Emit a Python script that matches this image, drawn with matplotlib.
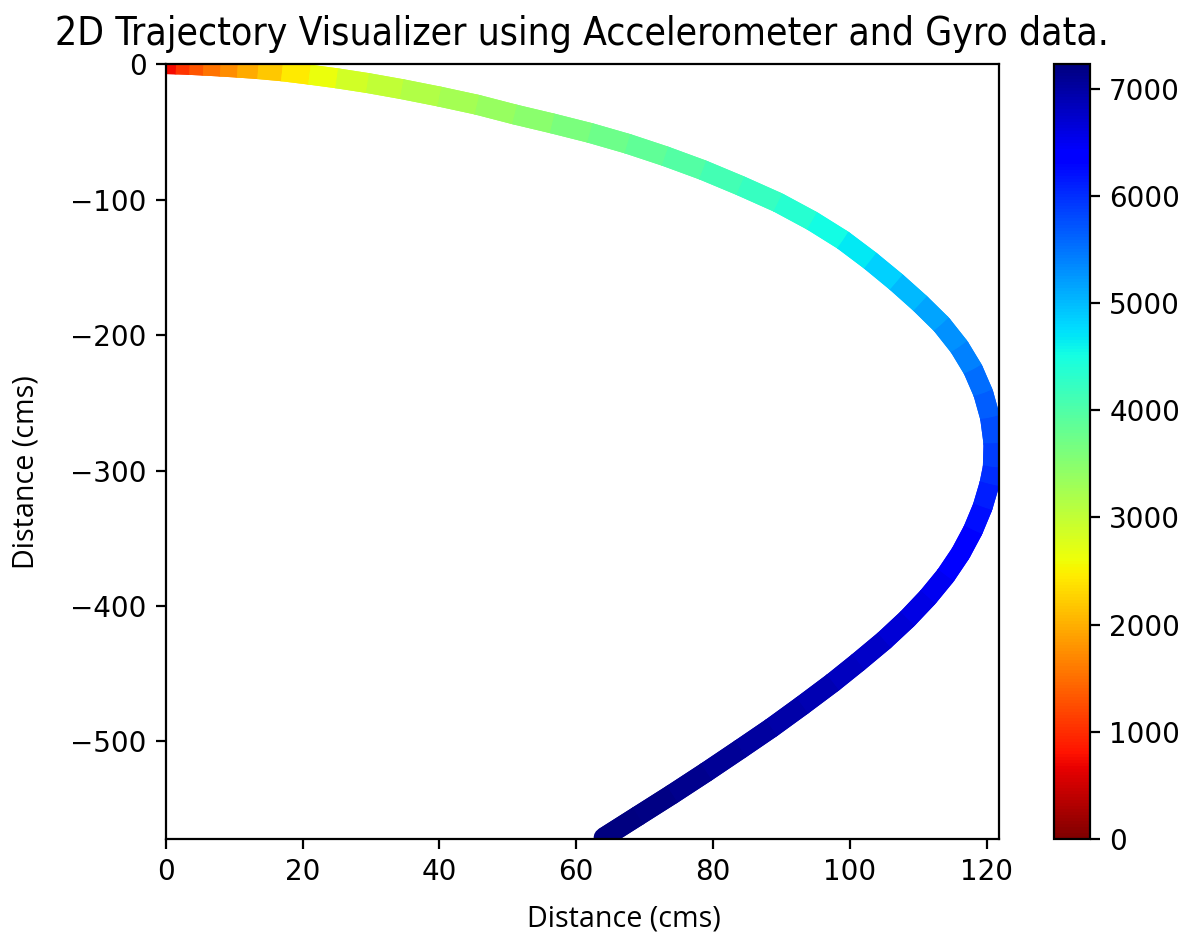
import matplotlib
matplotlib.use("Agg")
import matplotlib.pyplot as plt
import numpy as np
from matplotlib.collections import LineCollection
from matplotlib.colors import Normalize

# sample index along the run and the integrated position (cm)
sample_idx = [0, 750, 1050, 1300, 1550, 1750, 1950, 2200, 2450, 2650,
              2880, 3020, 3140, 3250, 3370, 3480, 3620, 3740, 3860, 3980,
              4100, 4230, 4370, 4520, 4680, 4840, 5000, 5150, 5300, 5420,
              5540, 5660, 5780, 5900, 6010, 6120, 6230, 6330, 6420, 6510,
              6590, 6670, 6750, 6830, 6900, 6960, 7020, 7080, 7130, 7180,
              7230]
pos_x = [0.0, 1.5, 3.5, 5.5, 8.0, 10.5, 13.5, 17.0, 21.0, 25.0,
         29.5, 34.5, 40.0, 45.5, 51.0, 56.5, 62.0, 67.5, 73.0, 78.5,
         84.0, 89.5, 94.5, 99.0, 103.0, 106.8, 110.3, 113.4, 116.0, 118.0,
         119.5, 120.5, 121.0, 120.9, 120.4, 119.4, 118.0, 116.2, 114.0, 111.4,
         108.4, 105.0, 101.2, 97.5, 93.0, 88.5, 84.0, 79.0, 74.0, 69.0,
         64.0]
pos_y = [0.0, -0.2, -0.6, -1.1, -1.8, -2.6, -3.7, -5.3, -7.8, -10.5,
         -14.0, -18.5, -24.0, -30.0, -37.2, -43.8, -50.8, -58.8, -68.0, -78.2,
         -89.8, -102.2, -115.8, -130.0, -145.2, -161.0, -176.8, -192.2, -208.8, -225.5,
         -243.0, -261.0, -280.0, -297.5, -310.0, -327.0, -344.0, -361.0, -377.5, -393.5,
         -409.5, -425.5, -441.5, -456.5, -473.5, -490.0, -505.5, -522.5, -539.0, -555.0,
         -571.0]

cbar_ticks = [0, 1000, 2000, 3000, 4000, 5000, 6000, 7000]

fig = plt.figure(figsize=(5.965, 4.69), dpi=200)
ax = fig.add_axes([0.139, 0.1055, 0.6984, 0.8262])
cax = fig.add_axes([0.8835, 0.1055, 0.030, 0.8262])

pts = np.column_stack([pos_x, pos_y])
segs = np.stack([pts[:-1], pts[1:]], axis=1)
# each stretch takes the colour of the later sample, which is drawn on top
seg_val = np.asarray(sample_idx[1:], dtype=float)
norm = Normalize(vmin=min(sample_idx), vmax=max(sample_idx))

# round-capped layer fills the bends, butt-capped layer on top keeps colours clean
under = LineCollection(segs, cmap="jet_r", norm=norm, linewidths=7.2,
                       capstyle="round")
under.set_array(seg_val)
ax.add_collection(under)
lc = LineCollection(segs, cmap="jet_r", norm=norm, linewidths=7.2,
                    capstyle="butt")
lc.set_array(seg_val)
ax.add_collection(lc)

ax.set_xlim(0, 121.8)
ax.set_ylim(-572, 0)

ax.set_title("2D Trajectory Visualizer using Accelerometer and Gyro data.",
             fontsize=14, fontstretch="condensed", pad=7)
ax.set_xlabel("Distance (cms)", fontsize=10.3, family="Open Sans")
ax.set_ylabel("Distance (cms)", fontsize=10.3, family="Open Sans")
ax.xaxis.set_label_coords(0.55, -0.085)
ax.yaxis.set_label_coords(-0.151, 0.4735)

cb = fig.colorbar(lc, cax=cax)
cb.set_ticks(cbar_ticks)

fig.savefig("out.png", dpi=200)
